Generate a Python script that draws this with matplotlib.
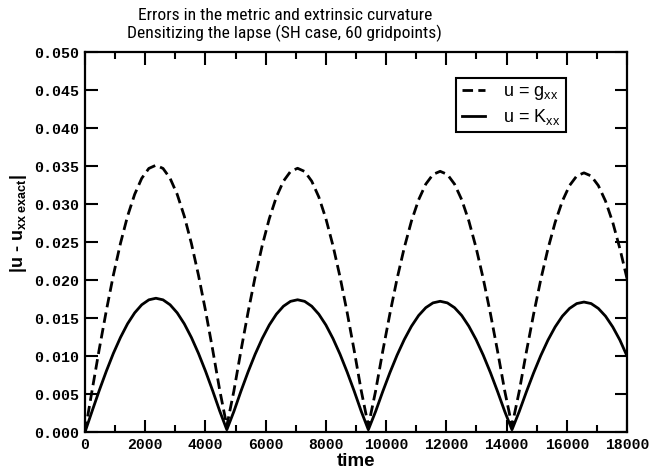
import matplotlib
matplotlib.use("Agg")
import matplotlib.pyplot as plt
from matplotlib import font_manager
from matplotlib.ticker import FixedLocator, FixedFormatter, MultipleLocator

# ---- data ----
time = [0, 236, 471, 707, 942, 1178, 1413, 1649, 1884, 2120, 2355, 2591, 2826, 3062, 3297, 3533, 3768, 4004, 4239, 4475,
        4710, 4945, 5180, 5415, 5650, 5885, 6120, 6355, 6590, 6825, 7060, 7295, 7530, 7765, 8000, 8235, 8470, 8705, 8940, 9175,
        9410, 9649, 9887, 10126, 10364, 10603, 10841, 11080, 11318, 11557, 11795, 12034, 12272, 12511, 12749, 12988, 13226, 13465, 13703, 13942,
        14180, 14419, 14658, 14897, 15136, 15375, 15614, 15853, 16092, 16331, 16570, 16809, 17048, 17287, 17526, 17765, 18000]

err_gxx = [0.0, 0.00548, 0.01085, 0.01594, 0.02064, 0.02482, 0.0284, 0.03127, 0.03338, 0.03468, 0.0351, 0.03468, 0.03338, 0.03127, 0.0284, 0.02482, 0.02064, 0.01594, 0.01085, 0.00548,
           0.0008, 0.00541, 0.01072, 0.01575, 0.0204, 0.02453, 0.02807, 0.03092, 0.033, 0.03428, 0.0347, 0.03428, 0.033, 0.03092, 0.02807, 0.02453, 0.0204, 0.01575, 0.01072, 0.00541,
           0.0008, 0.00535, 0.0106, 0.01557, 0.02017, 0.02425, 0.02775, 0.03056, 0.03262, 0.03389, 0.0343, 0.03389, 0.03262, 0.03056, 0.02775, 0.02425, 0.02017, 0.01557, 0.0106, 0.00535,
           0.0008, 0.00532, 0.01054, 0.01548, 0.02005, 0.02411, 0.02759, 0.03038, 0.03243, 0.03369, 0.0341, 0.03369, 0.03243, 0.03038, 0.02759, 0.02411, 0.0202]

err_kxx = [0.0, 0.00275, 0.00544, 0.00799, 0.01035, 0.01244, 0.01424, 0.01568, 0.01674, 0.01739, 0.0176, 0.01739, 0.01674, 0.01568, 0.01424, 0.01244, 0.01035, 0.00799, 0.00544, 0.00275,
           0.0003, 0.00271, 0.00538, 0.0079, 0.01023, 0.0123, 0.01408, 0.0155, 0.01655, 0.01719, 0.0174, 0.01719, 0.01655, 0.0155, 0.01408, 0.0123, 0.01023, 0.0079, 0.00538, 0.00271,
           0.0003, 0.00268, 0.00531, 0.00781, 0.01011, 0.01216, 0.01391, 0.01533, 0.01636, 0.01699, 0.0172, 0.01699, 0.01636, 0.01533, 0.01391, 0.01216, 0.01011, 0.00781, 0.00531, 0.00268,
           0.0003, 0.00267, 0.00528, 0.00776, 0.01005, 0.01209, 0.01383, 0.01524, 0.01626, 0.0169, 0.0171, 0.0169, 0.01626, 0.01524, 0.01383, 0.01209, 0.0100]

xticks = [0, 2000, 4000, 6000, 8000, 10000, 12000, 14000, 16000, 18000]
xtick_labels = ["0", "2000", "4000", "6000", "8000", "10000", "12000", "14000", "16000", "18000"]
yticks = [0.0, 0.005, 0.01, 0.015, 0.02, 0.025, 0.03, 0.035, 0.04, 0.045, 0.05]
ytick_labels = ["0.000", "0.005", "0.010", "0.015", "0.020", "0.025", "0.030", "0.035", "0.040", "0.045", "0.050"]

title_lines = ["Errors in the metric and extrinsic curvature",
               "Densitizing the lapse (SH case, 60 gridpoints)"]
label_gxx = r"u = g$_{\mathrm{xx}}$"
label_kxx = r"u = K$_{\mathrm{xx}}$"

# ---- fonts ----
names = {f.name for f in font_manager.fontManager.ttflist}
sans = "Liberation Sans"
narrow = None
for cand in ["Liberation Sans Narrow", "Roboto Condensed", "Open Sans Condensed", "DejaVu Sans Condensed"]:
    if cand in names:
        narrow = cand
        break
mono = "Liberation Mono"

plt.rcParams["font.family"] = [sans, "DejaVu Sans"]
plt.rcParams["mathtext.fontset"] = "custom"
plt.rcParams["mathtext.rm"] = sans
plt.rcParams["mathtext.it"] = sans
plt.rcParams["mathtext.bf"] = sans + ":bold"
plt.rcParams["mathtext.default"] = "rm"

fig = plt.figure(figsize=(6.49, 4.72), dpi=100)
ax = fig.add_axes([85 / 649, 1 - 432 / 472, 542 / 649, 380 / 472])

ax.plot(time, err_gxx, color="black", lw=2.0, dashes=(3.8, 1.9), label=label_gxx)
ax.plot(time, err_kxx, color="black", lw=2.0, label=label_kxx)

ax.set_xlim(0, 18000)
ax.set_ylim(0, 0.05)

ax.xaxis.set_major_locator(FixedLocator(xticks))
ax.xaxis.set_major_formatter(FixedFormatter(xtick_labels))
ax.xaxis.set_minor_locator(MultipleLocator(1000))
ax.yaxis.set_major_locator(FixedLocator(yticks))
ax.yaxis.set_major_formatter(FixedFormatter(ytick_labels))

ax.tick_params(which="both", direction="in", top=True, right=True, width=1.5, colors="black")
ax.tick_params(which="major", length=9, pad=4)
ax.tick_params(which="minor", length=5)
for lab in ax.get_xticklabels():
    lab.set_fontfamily(mono)
    lab.set_fontweight("bold")
    lab.set_fontsize(10.6)
for lab in ax.get_yticklabels():
    lab.set_fontfamily(mono)
    lab.set_fontweight("bold")
    lab.set_fontsize(10.8)

for sp in ax.spines.values():
    sp.set_linewidth(1.6)

ax.set_xlabel("time", fontsize=13.5, fontweight="bold", labelpad=1)
ax.set_ylabel(r"|u - u$_{\mathbf{xx\ exact}}$|", fontsize=13, fontweight="bold")
ax.yaxis.set_label_coords(-0.103, 0.55)

leg = ax.legend(loc="upper right", bbox_to_anchor=(0.8875, 0.9316), borderaxespad=0,
                fancybox=False, edgecolor="black", handlelength=1.3, handletextpad=1.0,
                fontsize=13, labelspacing=0.25, borderpad=0.3, framealpha=1)
leg.get_frame().set_linewidth(1.5)

tfam = [narrow, sans] if narrow else [sans]
tsize = 12.6 if narrow else 11.8
fig.text(0.439, 1 - 15 / 472, title_lines[0], ha="center", va="center", fontsize=tsize, family=tfam)
fig.text(0.439, 1 - 33 / 472, title_lines[1], ha="center", va="center", fontsize=tsize, family=tfam)

fig.savefig("out.png", dpi=100)
